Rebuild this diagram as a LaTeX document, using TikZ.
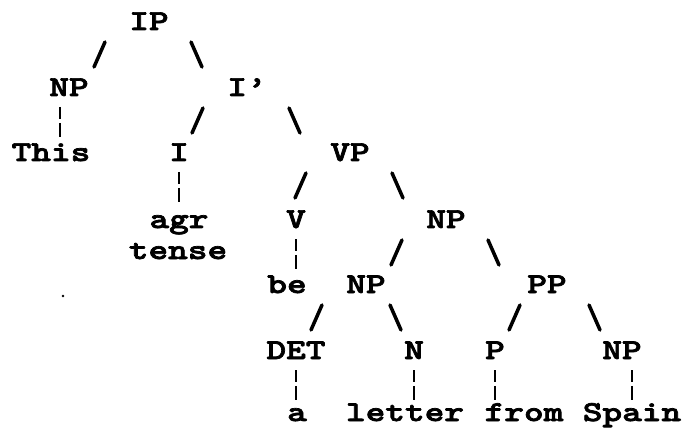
\documentclass[tikz,border=0pt]{standalone}
\font\treefont="[lmmonolt10-bold]:extend=1.30;embolden=2.5" at 20.5pt
\tikzset{
  word/.style={font=\treefont, anchor=base, inner sep=0pt},
  lslash/.style={line width=2.5pt, line cap=round,
    to path={(\tikztostart.base) ++(-44+#1,12) -- ++(-11,25)}},
  lslash/.default=0,
  rslash/.style={line width=2.5pt, line cap=round,
    to path={(\tikztostart.base) ++(42+#1,12) -- ++(11,25)}},
  rslash/.default=0,
  bar/.style={line width=2pt, dash pattern=on 8.5pt off 2.8pt on 10pt off 20pt,
    to path={(\tikztostart.base) ++(#1,11) -- ++(0,30)}},
  bar/.default=0,
}
\begin{document}
\begin{tikzpicture}[x=0.025cm, y=-0.025cm]
  \useasboundingbox (0,0) rectangle (688,432);
  % categories and words, row by row
  \node[word] (IP)     at (149,30)  {IP};
  \node[word] (NPsubj) at (69,96)   {NP};
  \node[word] (Ibar)   at (247,96)  {I’};
  \node[word] (this)   at (51,161)  {This};
  \node[word] (I)      at (179,161) {I};
  \node[word] (VP)     at (350,161) {VP};
  \node[word] (agr)    at (179,228) {agr};
  \node[word] (tense)  at (178,259) {tense};
  \node[word] (V)      at (296,228) {V};
  \node[word] (NPobj)  at (446,228) {NP};
  \node[word] (be)     at (287,293) {be};
  \node[word] (NPdet)  at (366,293) {NP};
  \node[word] (PP)     at (547,293) {PP};
  \node[word] (DET)    at (296,359) {DET};
  \node[word] (N)      at (414,359) {N};
  \node[word] (P)      at (495,359) {P};
  \node[word] (NPpp)   at (622,359) {NP};
  \node[word] (a)      at (297,421) {a};
  \node[word] (letter) at (405,421) {letter};
  \node[word] (from)   at (524,421) {from};
  \node[word] (spain)  at (632,421) {Spain};
  % branches
  \draw[lslash] (IP) to (NPsubj);
  \draw[rslash] (IP) to (Ibar);
  \draw[bar=-9] (NPsubj) to (this);
  \draw[lslash] (Ibar) to (I);
  \draw[rslash] (Ibar) to (VP);
  \draw[bar] (I) to (agr);
  \draw[lslash] (VP) to (V);
  \draw[rslash] (VP) to (NPobj);
  \draw[bar] (V) to (be);
  \draw[lslash] (NPobj) to (NPdet);
  \draw[rslash] (NPobj) to (PP);
  \draw[lslash] (NPdet) to (DET);
  \draw[rslash=-18] (NPdet) to (N);
  \draw[lslash=17] (PP) to (P);
  \draw[rslash] (PP) to (NPpp);
  \draw[bar] (DET) to (a);
  \draw[bar] (N) to (letter);
  \draw[bar] (P) to (from);
  \draw[bar=10] (NPpp) to (spain);
  \fill (63,296) circle (1pt);
\end{tikzpicture}
\end{document}
